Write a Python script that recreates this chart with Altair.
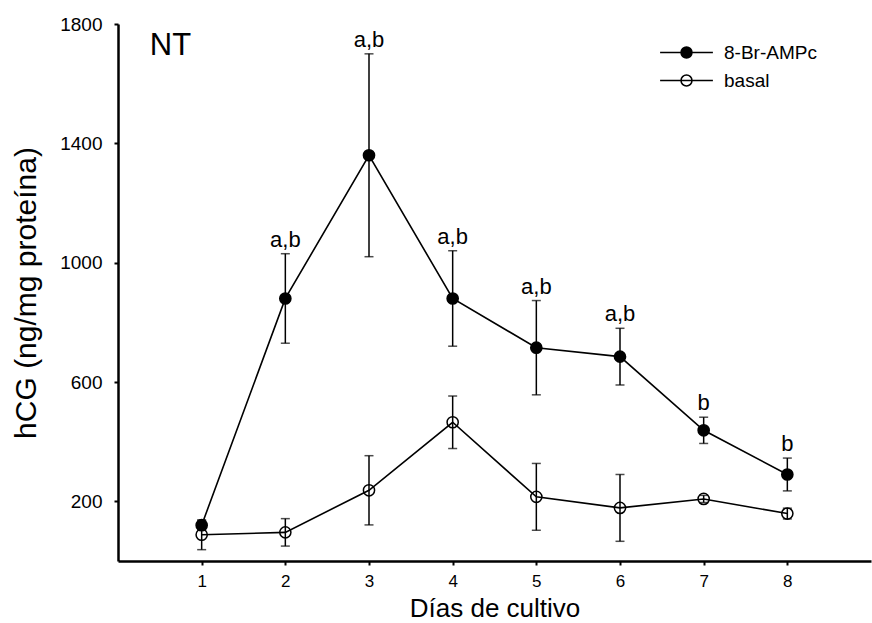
import altair as alt
import pandas as pd

days = [1, 2, 3, 4, 5, 6, 7, 8]
series_names = ["8-Br-AMPc", "basal"]
br_mean = [120, 880, 1360, 880, 715, 685, 438, 290]
br_err = [15, 150, 340, 160, 158, 95, 44, 55]
basal_mean = [88, 96, 237, 465, 215, 178, 208, 159]
basal_err = [50, 46, 116, 88, 112, 112, 12, 18]
sig_labels = ["", "a,b", "a,b", "a,b", "a,b", "a,b", "b", "b"]
y_ticks = [200, 600, 1000, 1400, 1800]
panel_label = ["NT"]
panel_label_day = [0.38]
panel_label_value = [1696]

rows = []
for d, m, e, lab in zip(days, br_mean, br_err, sig_labels):
    rows.append({"day": d, "series": series_names[0], "mean": m, "lo": m - e, "hi": m + e, "label": lab})
for d, m, e in zip(days, basal_mean, basal_err):
    rows.append({"day": d, "series": series_names[1], "mean": m, "lo": m - e, "hi": m + e, "label": ""})
df = pd.DataFrame(rows)
panel_df = pd.DataFrame({"day": panel_label_day, "mean": panel_label_value, "label": panel_label})

FONT = "Liberation Sans"

xs = alt.Scale(domain=[0, 9], nice=False, zero=False)
ys = alt.Scale(domain=[0, 1800], nice=False)

x = alt.X("day:Q", scale=xs, axis=alt.Axis(values=days, title="Días de cultivo", format="d",
                                           tickSize=4, labelPadding=8, labelFontSize=17,
                                           titleFontSize=26, titleY=55.5, titleBaseline="alphabetic"))
y = alt.Y("mean:Q", scale=ys, axis=alt.Axis(values=y_ticks, title="hCG (ng/mg proteína)", format="d",
                                            tickSize=4, labelPadding=12, labelFontSize=19,
                                            titleFontSize=30, titleX=-83, titleY=268.5,
                                            titleAngle=270, titleBaseline="alphabetic", titleAlign="center"))

base = alt.Chart(df)

lines = base.mark_line(color="black", strokeWidth=1.6).encode(x=x, y=y, detail="series:N")
rules = base.mark_rule(color="black", strokeWidth=1.5).encode(x="day:Q", y="lo:Q", y2="hi:Q")
caps_hi = base.mark_tick(orient="horizontal", size=9, thickness=1.5, color="black").encode(x="day:Q", y="hi:Q")
caps_lo = base.mark_tick(orient="horizontal", size=9, thickness=1.5, color="black").encode(x="day:Q", y="lo:Q")

legend_symbol = "M-4.8,0L4.8,0M1,0A1,1,0,1,1,-1,0A1,1,0,1,1,1,0Z"
points = base.mark_point(filled=True, size=125, stroke="black", strokeWidth=1.5, opacity=1).encode(
    x="day:Q", y="mean:Q",
    fill=alt.Fill("series:N", scale=alt.Scale(domain=series_names, range=["black", "transparent"]),
                  legend=alt.Legend(title=None, orient="none", legendX=559, legendY=19,
                                    symbolType=legend_symbol, symbolSize=121,
                                    symbolStrokeColor="black", symbolStrokeWidth=1.5,
                                    labelFont=FONT, labelFontSize=19, labelColor="black",
                                    labelOffset=28, rowPadding=8, padding=0))
)

texts = base.transform_filter(alt.datum.label != "").mark_text(
    font=FONT, fontSize=22, baseline="alphabetic", dy=-7, color="black"
).encode(x="day:Q", y="hi:Q", text="label:N")

panel = alt.Chart(panel_df).mark_text(
    font=FONT, fontSize=31, baseline="alphabetic", align="left", color="black"
).encode(x="day:Q", y="mean:Q", text="label:N")

chart = alt.layer(lines, rules, caps_hi, caps_lo, points, texts, panel).properties(
    width=753, height=537,
    padding={"left": 118, "top": 24, "right": 1, "bottom": 62},
    autosize="none",
).configure_axis(
    domainColor="black", domainWidth=2.5, tickColor="black", tickWidth=2, grid=False,
    labelFont=FONT, labelColor="black", titleFont=FONT, titleColor="black", titleFontWeight="normal",
).configure_view(stroke=None)

chart.save("out.html", embed_options={"renderer": "svg", "actions": False})
